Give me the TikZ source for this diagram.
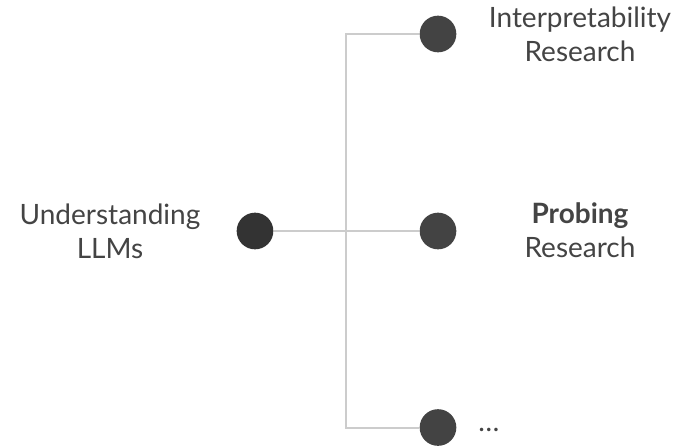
\documentclass[tikz,border=0pt]{standalone}
\usepackage{fontspec}
\setmainfont{Lato}
\definecolor{dotA}{HTML}{333333}
\definecolor{dotB}{HTML}{434343}
\definecolor{linec}{HTML}{CCCCCC}
\definecolor{txt}{HTML}{444444}
\begin{document}
\begin{tikzpicture}[x=0.75pt,y=-0.75pt,
  dot/.style={circle,fill=dotB,minimum size=27.5pt,inner sep=0pt},
  conn/.style={draw=linec,line width=1.5pt},
  lbl/.style={text=txt,align=center,font=\fontsize{21}{25.5}\selectfont,inner sep=0pt}]
\useasboundingbox (0,0) rectangle (685,447);
\node[dot,fill=dotA] (root) at (255,231) {};
\node[dot] (top) at (438,34) {};
\node[dot] (mid) at (438,231) {};
\node[dot] (bot) at (438,427.5) {};
\coordinate (j) at (346,231);
\draw[conn] (root) -- (j);
\draw[conn] (top.west) -| (j) |- (bot.west);
\draw[conn] (j) -- (mid.west);
\node[lbl] (tl) at (110,231) {Understanding\\LLMs};
\node[lbl] (tt) at (580,34) {Interpretability\\Research};
\node[lbl] (tm) at (580,230) {\textbf{Probing}\\Research};
\node[lbl,anchor=west] (tb) at (478,430) {…};
\end{tikzpicture}
\end{document}
